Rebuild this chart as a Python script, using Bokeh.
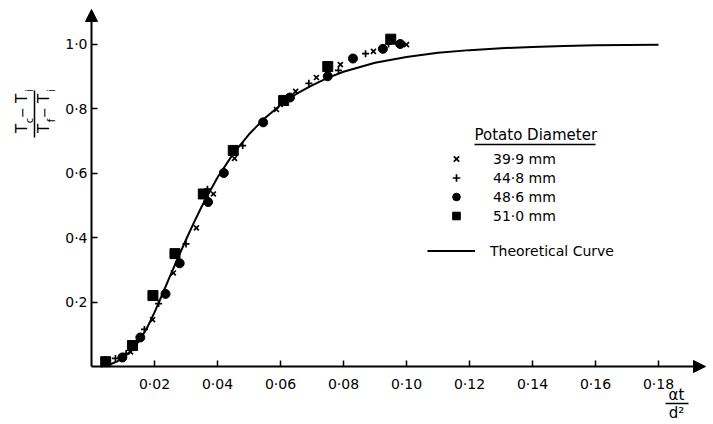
from bokeh.plotting import figure
from bokeh.models import Range1d, FixedTicker, Legend, LegendItem, Label, Arrow, NormalHead
from bokeh.embed import file_html
from bokeh.resources import INLINE
import math

# ---- data ----
curve_x = [0.003, 0.006, 0.008, 0.010, 0.0125, 0.015, 0.0175, 0.020, 0.0225, 0.025, 0.0275,
           0.030, 0.0325, 0.035, 0.0375, 0.040, 0.045, 0.050, 0.055, 0.060, 0.065, 0.070,
           0.075, 0.080, 0.090, 0.100, 0.110, 0.120, 0.130, 0.140, 0.150, 0.160, 0.170, 0.180]
curve_y = [0.0, 0.007, 0.015, 0.026, 0.048, 0.078, 0.117, 0.168, 0.224, 0.282, 0.338,
           0.393, 0.446, 0.496, 0.542, 0.586, 0.660, 0.720, 0.770, 0.811, 0.845, 0.872,
           0.895, 0.914, 0.942, 0.960, 0.973, 0.981, 0.987, 0.991, 0.994, 0.996, 0.997, 0.998]

x_399 = [0.0124, 0.0194, 0.026, 0.0333, 0.0387, 0.0454, 0.0587, 0.0648, 0.0714, 0.079, 0.0895, 0.100]
y_399 = [0.045, 0.145, 0.29, 0.43, 0.535, 0.645, 0.797, 0.853, 0.896, 0.936, 0.977, 0.998]

x_448 = [0.0076, 0.011, 0.0168, 0.0213, 0.030, 0.0368, 0.048, 0.0605, 0.069, 0.0784, 0.087, 0.0943]
y_448 = [0.025, 0.04, 0.115, 0.195, 0.38, 0.55, 0.685, 0.815, 0.878, 0.918, 0.97, 1.0]

x_486 = [0.0098, 0.0155, 0.0235, 0.028, 0.037, 0.042, 0.0545, 0.063, 0.075, 0.083, 0.0925, 0.098]
y_486 = [0.028, 0.09, 0.225, 0.32, 0.51, 0.60, 0.757, 0.834, 0.90, 0.955, 0.985, 1.0]

x_510 = [0.0045, 0.013, 0.0195, 0.0265, 0.0355, 0.045, 0.061, 0.075, 0.095]
y_510 = [0.015, 0.065, 0.22, 0.35, 0.535, 0.67, 0.825, 0.93, 1.015]

series_labels = ["39·9 mm", "44·8 mm", "48·6 mm", "51·0 mm"]
curve_label = "Theoretical Curve"
legend_title = "Potato Diameter"

x_ticks = [0.02, 0.04, 0.06, 0.08, 0.10, 0.12, 0.14, 0.16, 0.18]
x_tick_labels = ["0·02", "0·04", "0·06", "0·08", "0·10", "0·12", "0·14", "0·16", "0·18"]
y_ticks = [0.2, 0.4, 0.6, 0.8, 1.0]
y_tick_labels = ["0·2", "0·4", "0·6", "0·8", "1·0"]

# ---- layout (frame covers the whole canvas; axes fixed at 0) ----
W, H = 713, 424
OX, OY = 91, 366          # pixel position of the data origin
PX_X = 3150.0             # px per unit on x
PX_Y = 322.5              # px per unit on y

FONT = "DejaVu Sans"


def dx(sx):
    return (sx - OX) / PX_X


def dy(sy):
    return (OY - sy) / PX_Y


p = figure(width=W, height=H, output_backend="svg", toolbar_location=None,
           x_range=Range1d(dx(0), dx(W)), y_range=Range1d(dy(H), dy(0)),
           min_border=0)
p.outline_line_color = None
p.grid.visible = False
p.background_fill_color = "white"
p.border_fill_color = "white"

for ax, ticks, labels in ((p.xaxis[0], x_ticks, x_tick_labels), (p.yaxis[0], y_ticks, y_tick_labels)):
    ax.fixed_location = 0
    ax.ticker = FixedTicker(ticks=ticks)
    ax.major_label_overrides = {t: l for t, l in zip(ticks, labels)}
    ax.axis_line_color = None
    ax.major_tick_in = 6
    ax.major_tick_out = 0
    ax.minor_tick_line_color = None
    ax.major_tick_line_color = "black"
    ax.major_tick_line_width = 1.5
    ax.major_label_text_font = FONT
    ax.major_label_text_font_size = "14px"
    ax.major_label_text_color = "black"
p.xaxis[0].major_label_standoff = 9
p.yaxis[0].major_label_standoff = 4

# axes with arrow heads
p.add_layout(Arrow(end=NormalHead(size=12, fill_color="black", line_color="black"),
                   x_start=0, y_start=0, x_end=dx(705), y_end=0, line_width=2, line_color="black"))
p.add_layout(Arrow(end=NormalHead(size=12, fill_color="black", line_color="black"),
                   x_start=0, y_start=0, x_end=0, y_end=dy(9), line_width=2, line_color="black"))

# theoretical curve
r_curve = p.line(curve_x, curve_y, line_color="black", line_width=2)

# data points
r1 = p.scatter(x_399, y_399, marker="x", size=7, line_color="black", line_width=1.7)
r2 = p.scatter(x_448, y_448, marker="cross", size=7, line_color="black", line_width=1.7)
r3 = p.scatter(x_486, y_486, marker="circle", size=9, fill_color="black", line_color="black")
r4 = p.scatter(x_510, y_510, marker="square", size=10, fill_color="black", line_color="black")

# legend (markers)
leg1 = Legend(items=[LegendItem(label=l, renderers=[r]) for l, r in zip(series_labels, [r1, r2, r3, r4])],
              location=(446, H - 225), orientation="vertical",
              glyph_width=20, glyph_height=19, label_height=19, label_standoff=27,
              spacing=0, padding=0, margin=0,
              border_line_color=None, background_fill_alpha=0,
              label_text_font=FONT, label_text_font_size="14px", label_text_color="black")
leg2 = Legend(items=[LegendItem(label=curve_label, renderers=[r_curve])],
              location=(427, H - 260), glyph_width=48, glyph_height=19, label_height=19,
              label_standoff=15, spacing=0, padding=0, margin=0,
              border_line_color=None, background_fill_alpha=0,
              label_text_font=FONT, label_text_font_size="14px", label_text_color="black")
p.add_layout(leg1)
p.add_layout(leg2)

# legend title with underline
p.add_layout(Label(x=dx(474), y=dy(134), text=legend_title, text_font=FONT, text_font_size="15px",
                   text_align="left", text_baseline="middle", text_color="black"))
p.add_layout(Arrow(start=None, end=None, x_start=dx(474), y_start=dy(144), x_end=dx(595), y_end=dy(144),
                   line_width=1.5, line_color="black"))


def rlabel(sx, sy, txt, size):
    p.add_layout(Label(x=dx(sx), y=dy(sy), text=txt, angle=math.pi / 2, text_font=FONT,
                       text_font_size=size, text_align="center", text_baseline="middle",
                       text_color="black"))


# y axis title: (Tc - Ti) / (Tf - Ti), rotated
rlabel(21, 128, "T", "15px")
rlabel(29, 120, "c", "10px")
rlabel(22, 112, "−", "13px")
rlabel(21, 98, "T", "15px")
rlabel(29, 90, "i", "10px")
rlabel(43, 128, "T", "15px")
rlabel(51, 120, "f", "10px")
rlabel(44, 112, "−", "13px")
rlabel(43, 98, "T", "15px")
rlabel(51, 90, "i", "10px")
p.add_layout(Arrow(start=None, end=None, x_start=dx(34), y_start=dy(90), x_end=dx(34), y_end=dy(137),
                   line_width=1.5, line_color="black"))

# x axis title: αt / d²
p.add_layout(Label(x=dx(676), y=dy(394), text="αt", text_font=FONT, text_font_size="15px",
                   text_align="center", text_baseline="middle", text_color="black"))
p.add_layout(Arrow(start=None, end=None, x_start=dx(665), y_start=dy(403), x_end=dx(688), y_end=dy(403),
                   line_width=1.5, line_color="black"))
p.add_layout(Label(x=dx(676), y=dy(412), text="d²", text_font=FONT, text_font_size="15px",
                   text_align="center", text_baseline="middle", text_color="black"))

open("out.html", "w").write(file_html(p, INLINE))
